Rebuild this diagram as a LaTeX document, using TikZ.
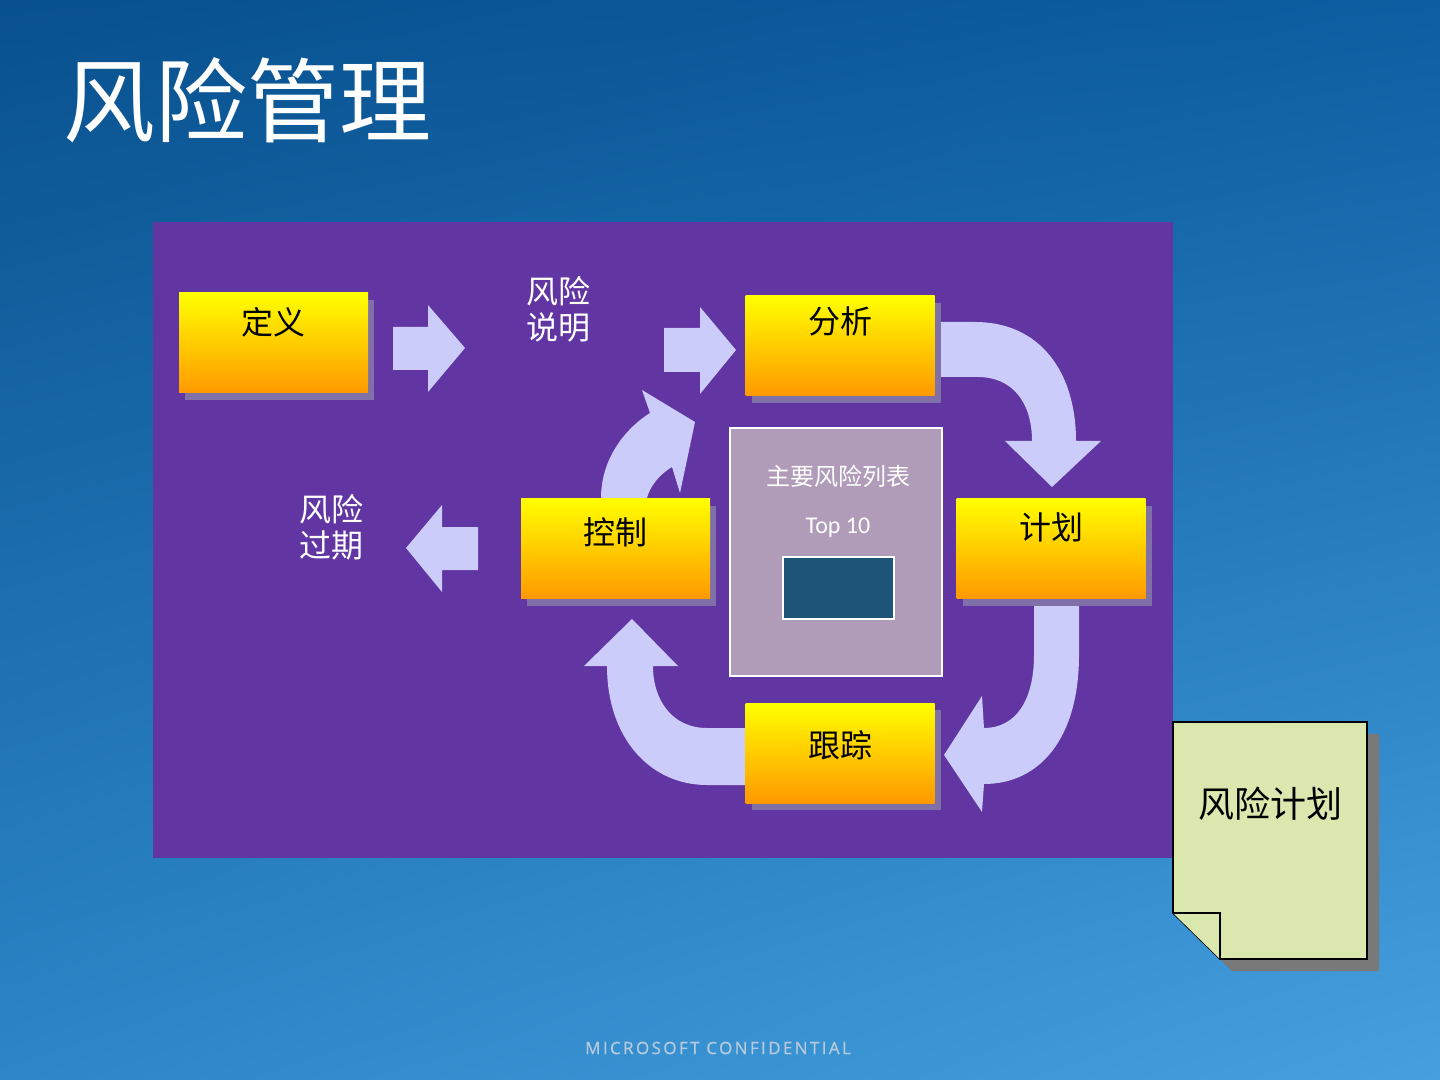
\documentclass[tikz,border=0pt]{standalone}
\usepackage{fontspec}
\setmainfont{Noto Sans CJK SC}
\newfontfamily\latinfont{Carlito}
\newfontfamily\footfont[LetterSpace=14,FakeBold=0.6]{Open Sans}
\usetikzlibrary{shadows,shadings}

\definecolor{bgul}{RGB}{8,80,142}
\definecolor{bgur}{RGB}{12,94,162}
\definecolor{bgll}{RGB}{44,134,200}
\definecolor{bglr}{RGB}{70,160,222}
\definecolor{panelpurple}{RGB}{97,53,162}
\definecolor{arrowlilac}{RGB}{204,204,250}
\definecolor{boxyellow}{RGB}{255,255,0}
\definecolor{boxorange}{RGB}{255,153,0}
\definecolor{boxshadow}{RGB}{128,112,168}
\definecolor{listgray}{RGB}{176,156,184}
\definecolor{listblue}{RGB}{30,84,120}
\definecolor{notegreen}{RGB}{218,232,176}
\definecolor{footgray}{RGB}{184,202,220}

\begin{document}
\begin{tikzpicture}[x=0.5pt, y=-0.5pt,
  riskbox/.style={top color=boxyellow, bottom color=boxorange, minimum width=94.5pt, minimum height=50pt,
    inner sep=0pt, text height=0pt, text depth=0pt, font=\fontsize{16pt}{18pt}\selectfont,
    drop shadow={fill=boxshadow, opacity=1, shadow xshift=3pt, shadow yshift=-3.5pt}},
  whitelabel/.style={text=white, align=center, inner sep=0pt, font=\fontsize{16pt}{18pt}\selectfont},
  blockarrow/.style={fill=arrowlilac},
  listbox/.style={draw=white, line width=1pt, fill=listgray, minimum width=106pt, minimum height=124pt, inner sep=0pt},
  listtext/.style={text=white, inner sep=0pt, font=\fontsize{12pt}{14pt}\selectfont},
  note/.style={draw=black, line width=0.8pt, fill=notegreen, line join=miter}
]
% Background and panel
\shade[upper left=bgul, upper right=bgur, lower left=bgll, lower right=bglr] (0,0) rectangle (1440,1080);
\fill[panelpurple] (153,222) rectangle (1173,858);
\node[text=white, inner sep=0pt, font=\fontsize{46pt}{50pt}\selectfont] (title) at (247,100) {风险管理};

% Define the arrows
\fill[blockarrow] (393,327) -- (428,327) -- (428,305) -- (465,348) -- (428,392) -- (428,370) -- (393,370) -- cycle;
\fill[blockarrow] (664,328) -- (700,328) -- (700,307) -- (736,350) -- (700,394) -- (700,372) -- (664,372) -- cycle;
\fill[blockarrow] (478,527) -- (442,527) -- (442,505) -- (406,548) -- (442,592) -- (442,570) -- (478,570) -- cycle;
\fill[blockarrow] (934,322) -- (975,322) .. controls (1040,322) and (1076,372) .. (1076,441) -- (1101,441) -- (1052,487)
  -- (1005,441) -- (1032,441) .. controls (1032,402) and (1012,377) .. (978,377) -- (934,377) -- cycle;
\fill[blockarrow] (1079,599) -- (1079,655) .. controls (1079,738) and (1040,784) .. (984,784) -- (982,812) -- (944,755)
  -- (982,696) -- (984,728) .. controls (1016,728) and (1034,700) .. (1034,655) -- (1034,599) -- cycle;
\fill[blockarrow] (746,728) -- (707,728) .. controls (672,728) and (653,700) .. (653,666) -- (678,666) -- (632,619)
  -- (584,666) -- (607,666) .. controls (607,738) and (650,785) .. (707,785) -- (746,785) -- cycle;
\fill[blockarrow] (601,498) .. controls (601,458) and (626,428) .. (650,413) -- (642,390) -- (695,422) -- (680,493)
  -- (672,467) .. controls (660,474) and (650,486) .. (647,498) -- cycle;

% Define the nodes
\node[riskbox] (dingyi) at (273.5,343) {\raisebox{4.4pt}{定义}};
\node[riskbox] (fenxi) at (840,346) {\raisebox{6.4pt}{分析}};
\node[riskbox] (jihua) at (1051,548.5) {\raisebox{4.4pt}{计划}};
\node[riskbox] (kongzhi) at (615.5,548.5) {\raisebox{1.9pt}{控制}};
\node[riskbox] (genzong) at (840,753) {\raisebox{-2.1pt}{跟踪}};
\node[whitelabel] (shuoming) at (558,309) {风险\\说明};
\node[whitelabel] (guoqi) at (331.5,527) {风险\\过期};

% Top list in the middle
\node[listbox] (toplist) at (836,552) {};
\node[listtext] (listtitle) at (838,476) {主要风险列表};
\node[listtext, font=\latinfont\fontsize{12pt}{14pt}\selectfont] (topten) at (838,528) {Top 10};
\node[draw=white, line width=1pt, fill=listblue, minimum width=55.5pt, minimum height=31pt, inner sep=0pt] (toprect) at (838.5,588) {};

% Risk plan note
\fill[gray!95!black] (1185,734) -- (1379,734) -- (1379,971) -- (1232,971) -- (1185,925) -- cycle;
\draw[note] (1173,722) -- (1367,722) -- (1367,959) -- (1220,959) -- (1173,913) -- cycle;
\draw[note] (1173,913) -- (1220,913) -- (1220,959);
\node[inner sep=0pt, font=\fontsize{18pt}{20pt}\selectfont] (plan) at (1270,804) {风险计划};

\node[text=footgray, inner sep=0pt, font=\footfont\fontsize{8.5pt}{10pt}\selectfont] (footer) at (718,1048) {MICROSOFT CONFIDENTIAL};
\end{tikzpicture}
\end{document}
